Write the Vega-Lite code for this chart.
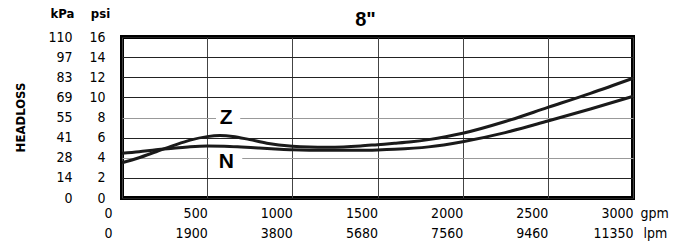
{
  "$schema": "https://vega.github.io/schema/vega-lite/v6.json",
  "width": 511,
  "height": 161,
  "autosize": "none",
  "padding": {"left": 122, "top": 37, "right": 47, "bottom": 51},
  "background": "white",
  "config": {"view": {"stroke": "black", "strokeWidth": 4}, "font": "DejaVu Sans Condensed, Liberation Sans, sans-serif"},
  "title": {"text": "8\"", "font": "Liberation Sans, sans-serif", "fontSize": 20, "fontWeight": "bold", "color": "black", "dx": -12, "offset": -23},
  "layer": [
    {
      "data": {"values": [
        {"series": "Z", "gpm": 0, "psi": 3.5},
        {"series": "Z", "gpm": 100, "psi": 4.0},
        {"series": "Z", "gpm": 200, "psi": 4.6},
        {"series": "Z", "gpm": 300, "psi": 5.2},
        {"series": "Z", "gpm": 400, "psi": 5.75},
        {"series": "Z", "gpm": 500, "psi": 6.1},
        {"series": "Z", "gpm": 575, "psi": 6.2},
        {"series": "Z", "gpm": 650, "psi": 6.12},
        {"series": "Z", "gpm": 750, "psi": 5.8},
        {"series": "Z", "gpm": 850, "psi": 5.45},
        {"series": "Z", "gpm": 1000, "psi": 5.15},
        {"series": "Z", "gpm": 1100, "psi": 5.07},
        {"series": "Z", "gpm": 1200, "psi": 5.05},
        {"series": "Z", "gpm": 1300, "psi": 5.08},
        {"series": "Z", "gpm": 1400, "psi": 5.17},
        {"series": "Z", "gpm": 1500, "psi": 5.3},
        {"series": "Z", "gpm": 1600, "psi": 5.43},
        {"series": "Z", "gpm": 1700, "psi": 5.58},
        {"series": "Z", "gpm": 1800, "psi": 5.8},
        {"series": "Z", "gpm": 1900, "psi": 6.08},
        {"series": "Z", "gpm": 2000, "psi": 6.43},
        {"series": "Z", "gpm": 2250, "psi": 7.6},
        {"series": "Z", "gpm": 2500, "psi": 9.0},
        {"series": "Z", "gpm": 2750, "psi": 10.4},
        {"series": "Z", "gpm": 3000, "psi": 11.9},
        {"series": "N", "gpm": 0, "psi": 4.45},
        {"series": "N", "gpm": 100, "psi": 4.6},
        {"series": "N", "gpm": 200, "psi": 4.8},
        {"series": "N", "gpm": 300, "psi": 4.95},
        {"series": "N", "gpm": 400, "psi": 5.1},
        {"series": "N", "gpm": 500, "psi": 5.17},
        {"series": "N", "gpm": 600, "psi": 5.15},
        {"series": "N", "gpm": 700, "psi": 5.07},
        {"series": "N", "gpm": 800, "psi": 4.97},
        {"series": "N", "gpm": 900, "psi": 4.88},
        {"series": "N", "gpm": 1000, "psi": 4.8},
        {"series": "N", "gpm": 1200, "psi": 4.75},
        {"series": "N", "gpm": 1400, "psi": 4.75},
        {"series": "N", "gpm": 1500, "psi": 4.78},
        {"series": "N", "gpm": 1600, "psi": 4.84},
        {"series": "N", "gpm": 1800, "psi": 5.08},
        {"series": "N", "gpm": 2000, "psi": 5.6},
        {"series": "N", "gpm": 2250, "psi": 6.5},
        {"series": "N", "gpm": 2500, "psi": 7.65},
        {"series": "N", "gpm": 2750, "psi": 8.85},
        {"series": "N", "gpm": 3000, "psi": 10.1}
      ]},
      "mark": {"type": "line", "interpolate": "monotone", "strokeWidth": 3, "color": "#1a1a1a"},
      "encoding": {
        "x": {
          "field": "gpm", "type": "quantitative",
          "scale": {"domain": [0, 3000], "nice": false},
          "axis": {
            "orient": "bottom",
            "values": [0, 500, 1000, 1500, 2000, 2500, 3000], "format": "d",
            "grid": true, "gridColor": "#444", "gridWidth": 1,
            "domain": false, "ticks": false,
            "labelFontSize": 14, "labelColor": "black",
            "labelAlign": "right", "labelBaseline": "middle", "labelPadding": 15,
            "labelOffset": {"condition": {"test": "datum.value == 0", "value": -10}, "value": 0},
            "labelFlush": false, "labelOverlap": false,
            "title": "gpm", "titleFontSize": 14, "titleFontWeight": "normal", "titleColor": "black",
            "titleX": 518, "titleY": 15, "titleAlign": "left", "titleBaseline": "middle"
          }
        },
        "y": {
          "field": "psi", "type": "quantitative",
          "scale": {"domain": [0, 16], "nice": false},
          "axis": {
            "orient": "left",
            "values": [0, 2, 4, 6, 8, 10, 12, 14, 16],
            "grid": true,
            "gridColor": {"condition": {"test": "datum.value == 8 || datum.value == 4", "value": "#999"}, "value": "#222"},
            "gridWidth": 1,
            "domain": false, "ticks": false,
            "labelFontSize": 14, "labelColor": "black",
            "labelAlign": "right", "labelBaseline": "middle", "labelPadding": 17,
            "labelFlush": false, "labelOverlap": false,
            "title": "psi", "titleFontSize": 13, "titleFontWeight": "bold", "titleColor": "black",
            "titleAngle": 0, "titleX": -22, "titleY": -24, "titleAlign": "center", "titleBaseline": "middle"
          }
        },
        "detail": {"field": "series", "type": "nominal"}
      }
    },
    {
      "data": {"values": [
        {"label": "Z", "gpm": 552, "gpm2": 694, "psi": 7.7, "psi2": 8.3},
        {"label": "N", "gpm": 510, "gpm2": 706, "psi": 3.7, "psi2": 4.3}
      ]},
      "mark": {"type": "rect", "fill": "white"},
      "encoding": {
        "x": {
          "field": "gpm", "type": "quantitative",
          "axis": {
            "orient": "bottom",
            "values": [0, 500, 1000, 1500, 2000, 2500, 3000],
            "labelExpr": "datum.value == 0 ? '0' : datum.value == 500 ? '1900' : datum.value == 1000 ? '3800' : datum.value == 1500 ? '5680' : datum.value == 2000 ? '7560' : datum.value == 2500 ? '9460' : '11350'",
            "grid": false, "domain": false, "ticks": false, "offset": 20,
            "labelFontSize": 14, "labelColor": "black",
            "labelAlign": "right", "labelBaseline": "middle", "labelPadding": 15,
            "labelOffset": {"condition": {"test": "datum.value == 0", "value": -10}, "value": 0},
            "labelFlush": false, "labelOverlap": false,
            "title": "lpm", "titleFontSize": 14, "titleFontWeight": "normal", "titleColor": "black",
            "titleX": 521, "titleY": 15, "titleAlign": "left", "titleBaseline": "middle"
          }
        },
        "x2": {"field": "gpm2"},
        "y": {
          "field": "psi", "type": "quantitative",
          "axis": {
            "orient": "left",
            "values": [0, 2, 4, 6, 8, 10, 12, 14, 16],
            "labelExpr": "format(datum.value * 6.895, 'd')",
            "grid": false, "domain": false, "ticks": false, "offset": 33,
            "labelFontSize": 14, "labelColor": "black",
            "labelAlign": "right", "labelBaseline": "middle", "labelPadding": 17,
            "labelFlush": false, "labelOverlap": false,
            "title": "kPa", "titleFontSize": 13, "titleFontWeight": "bold", "titleColor": "black",
            "titleAngle": 0, "titleX": -27, "titleY": -24, "titleAlign": "center", "titleBaseline": "middle"
          }
        },
        "y2": {"field": "psi2"}
      }
    },
    {
      "data": {"values": [
        {"label": "Z", "gpm": 612, "psi": 8.0},
        {"label": "N", "gpm": 612, "psi": 3.6}
      ]},
      "mark": {"type": "text", "font": "Liberation Sans, sans-serif", "fontWeight": "bold", "fontSize": 21, "color": "black", "baseline": "middle", "align": "center"},
      "encoding": {
        "x": {"field": "gpm", "type": "quantitative", "axis": null},
        "y": {
          "field": "psi", "type": "quantitative",
          "axis": {
            "orient": "left", "labels": false, "grid": false, "domain": false, "ticks": false, "offset": 0,
            "title": "HEADLOSS", "titleFontSize": 13, "titleFontWeight": "bold", "titleColor": "black",
            "titleAngle": -90, "titleX": -102, "titleY": 80, "titleAlign": "center", "titleBaseline": "middle"
          }
        },
        "text": {"field": "label", "type": "nominal"}
      }
    }
  ],
  "resolve": {"axis": {"x": "independent", "y": "independent"}}
}
